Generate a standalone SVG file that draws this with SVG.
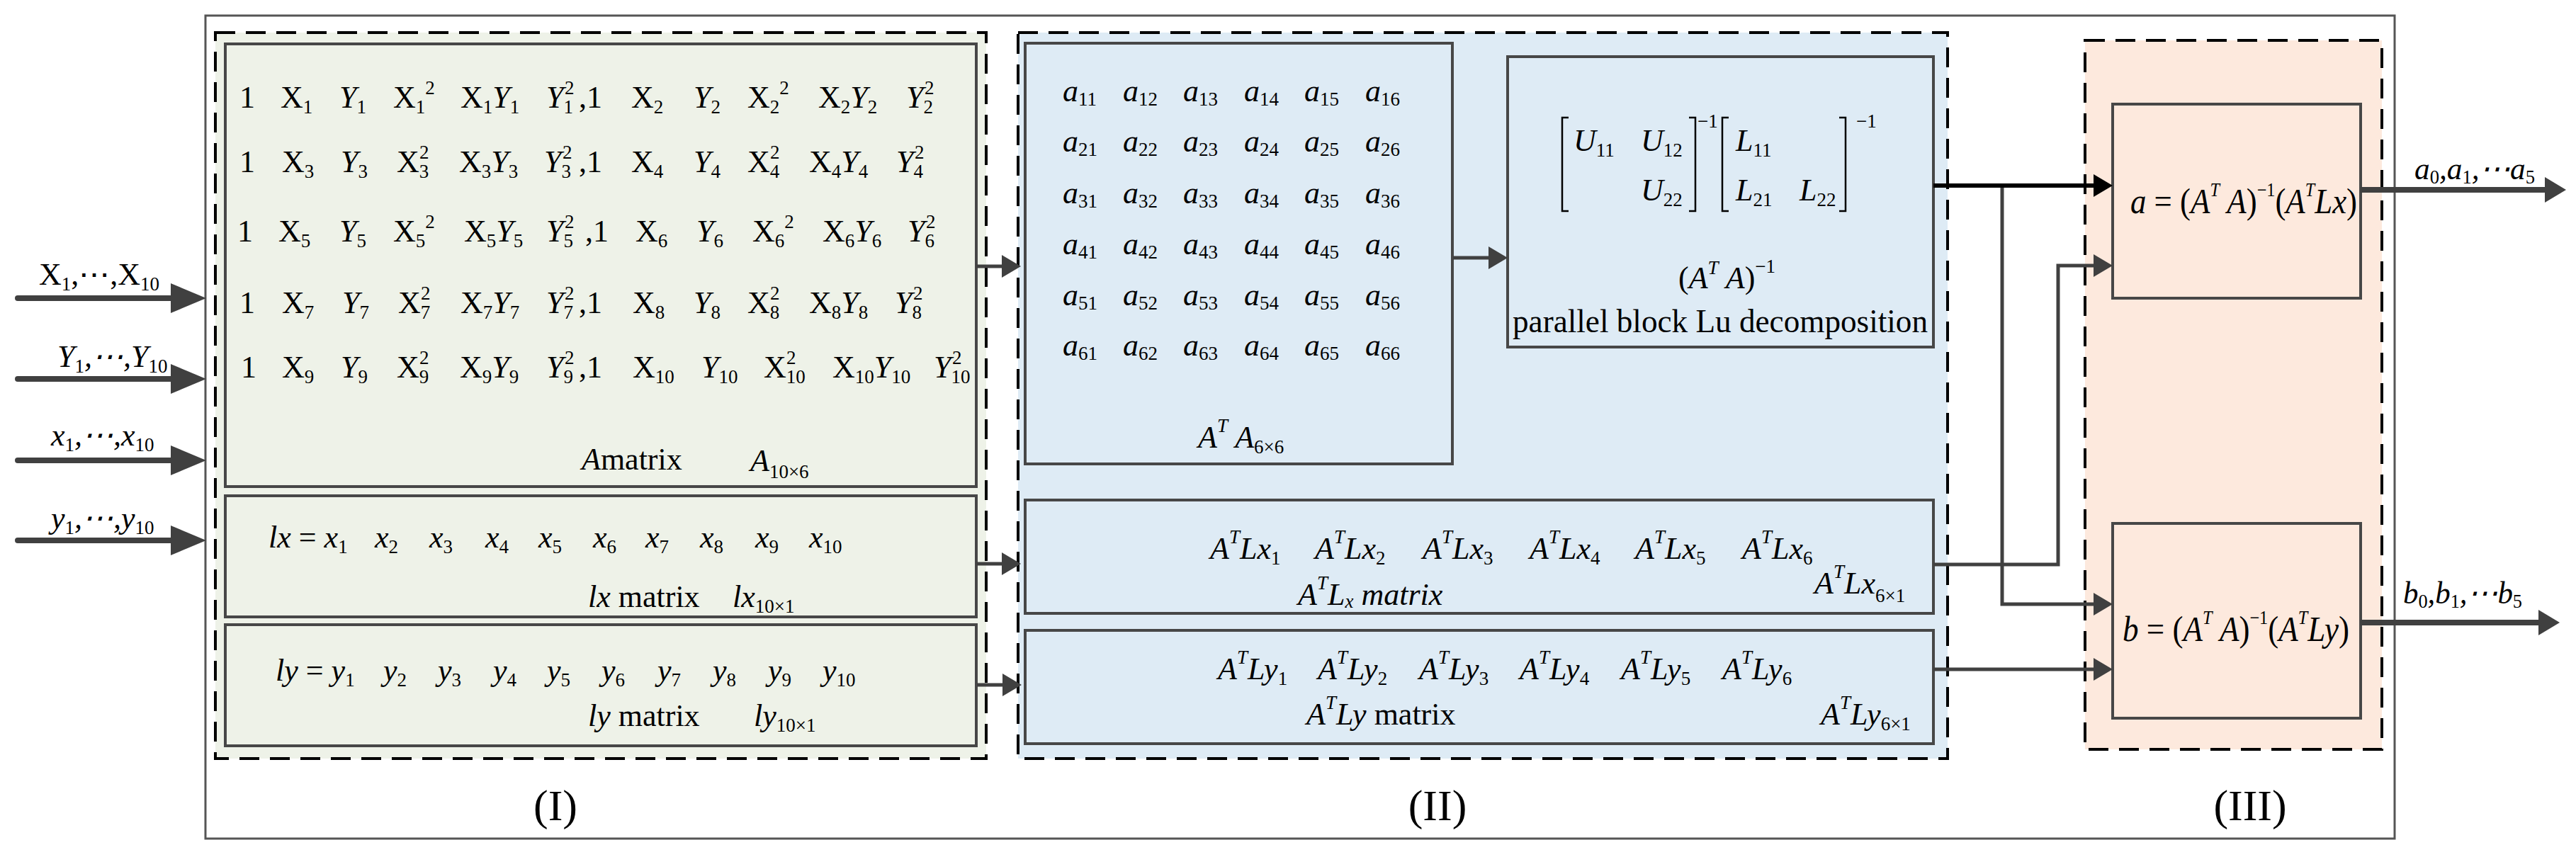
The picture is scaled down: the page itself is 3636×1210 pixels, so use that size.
<svg xmlns="http://www.w3.org/2000/svg" width="3636" height="1210" viewBox="0 0 3636 1210">
<style>
.t{font-family:"Liberation Serif","Times New Roman",serif;font-size:44px;fill:#000}
.i{font-style:italic}
.n{font-style:normal}
.s{font-size:27px;font-style:normal}
.si{font-size:27px;font-style:italic}
.sec{font-family:"Liberation Serif","Times New Roman",serif;font-size:62px;fill:#000;text-anchor:middle}
.box{stroke:#474747;stroke-width:4}
.dash{stroke:#000;stroke-width:4;stroke-dasharray:28 15}
.g{fill:#EEF2E8}
.b{fill:#DEEBF5}
.p{fill:#FDE9DD}
.c{fill:none;stroke:#404040;stroke-width:5}
.in{stroke-width:8;stroke-linecap:round}
.brk{fill:none;stroke:#000;stroke-width:2.5}
</style>
<defs>
<marker id="mBig" viewBox="0 0 50 42" markerWidth="50" markerHeight="42" refX="38" refY="21" orient="auto" markerUnits="userSpaceOnUse"><path d="M0,0 L50,21 L0,42 z" fill="#404040"/></marker>
<marker id="mSm" viewBox="0 0 27 32" markerWidth="27" markerHeight="32" refX="17" refY="16" orient="auto" markerUnits="userSpaceOnUse"><path d="M0,0 L27,16 L0,32 z" fill="#404040"/></marker>
<marker id="mBlk" viewBox="0 0 27 32" markerWidth="27" markerHeight="32" refX="17" refY="16" orient="auto" markerUnits="userSpaceOnUse"><path d="M0,0 L27,16 L0,32 z" fill="#000"/></marker>
<marker id="mOut" viewBox="0 0 30 36" markerWidth="30" markerHeight="36" refX="20" refY="18" orient="auto" markerUnits="userSpaceOnUse"><path d="M0,0 L30,18 L0,36 z" fill="#404040"/></marker>
</defs>
<rect width="3636" height="1210" fill="#fff"/>
<rect id="outer" x="290" y="22" width="3090" height="1162" fill="none" stroke="#555" stroke-width="3"/>

<g id="stage1">
<rect class="g" x="304" y="46" width="1088" height="1025"/>
<rect class="dash" fill="none" x="304" y="46" width="1088" height="1025"/>
<text class="sec" x="784" y="1158">(I)</text>
</g>
<g id="stage2">
<rect class="b" x="1437" y="46" width="1312" height="1025"/>
<rect class="dash" fill="none" x="1437" y="46" width="1312" height="1025"/>
<text class="sec" x="2029" y="1158">(II)</text>
</g>
<g id="stage3">
<rect class="p" x="2943" y="57" width="419" height="1001"/>
<rect class="dash" fill="none" x="2943" y="57" width="419" height="1001"/>
<text class="sec" x="3176" y="1158">(III)</text>
</g>

<g id="A-matrix">
<rect class="box g" x="318" y="62" width="1060" height="625"/>
<text class="t" x="338" y="152">1</text>
<text class="t" x="396" y="152">X<tspan class="s" dy="8">1</tspan></text>
<text class="t i" x="479" y="152">Y<tspan class="s" dy="8">1</tspan></text>
<text class="t" x="555" y="152">X<tspan class="s" dy="8">1</tspan><tspan class="s" dy="-27">2</tspan></text>
<text class="t" x="650" y="152">X<tspan class="s" dy="8">1</tspan><tspan class="i" dy="-8">Y</tspan><tspan class="s" dy="8">1</tspan></text>
<text class="t i" x="771" y="152">Y<tspan class="s" dy="8">1</tspan></text><text class="t s" x="797" y="133">2</text>
<text class="t" x="817" y="152">,1</text>
<text class="t" x="891" y="152">X<tspan class="s" dy="8">2</tspan></text>
<text class="t i" x="979" y="152">Y<tspan class="s" dy="8">2</tspan></text>
<text class="t" x="1055" y="152">X<tspan class="s" dy="8">2</tspan><tspan class="s" dy="-27">2</tspan></text>
<text class="t" x="1155" y="152">X<tspan class="s" dy="8">2</tspan><tspan class="i" dy="-8">Y</tspan><tspan class="s" dy="8">2</tspan></text>
<text class="t i" x="1279" y="152">Y<tspan class="s" dy="8">2</tspan></text><text class="t s" x="1305" y="133">2</text>
<text class="t" x="338" y="243">1</text>
<text class="t" x="398" y="243">X<tspan class="s" dy="8">3</tspan></text>
<text class="t i" x="481" y="243">Y<tspan class="s" dy="8">3</tspan></text>
<text class="t" x="560" y="243">X<tspan class="s" dy="8">3</tspan></text><text class="t s" x="592" y="224">2</text>
<text class="t" x="648" y="243">X<tspan class="s" dy="8">3</tspan><tspan class="i" dy="-8">Y</tspan><tspan class="s" dy="8">3</tspan></text>
<text class="t i" x="768" y="243">Y<tspan class="s" dy="8">3</tspan></text><text class="t s" x="794" y="224">2</text>
<text class="t" x="817" y="243">,1</text>
<text class="t" x="891" y="243">X<tspan class="s" dy="8">4</tspan></text>
<text class="t i" x="979" y="243">Y<tspan class="s" dy="8">4</tspan></text>
<text class="t" x="1055" y="243">X<tspan class="s" dy="8">4</tspan></text><text class="t s" x="1087" y="224">2</text>
<text class="t" x="1142" y="243">X<tspan class="s" dy="8">4</tspan><tspan class="i" dy="-8">Y</tspan><tspan class="s" dy="8">4</tspan></text>
<text class="t i" x="1265" y="243">Y<tspan class="s" dy="8">4</tspan></text><text class="t s" x="1291" y="224">2</text>
<text class="t" x="335" y="341">1</text>
<text class="t" x="393" y="341">X<tspan class="s" dy="8">5</tspan></text>
<text class="t i" x="479" y="341">Y<tspan class="s" dy="8">5</tspan></text>
<text class="t" x="555" y="341">X<tspan class="s" dy="8">5</tspan><tspan class="s" dy="-27">2</tspan></text>
<text class="t" x="655" y="341">X<tspan class="s" dy="8">5</tspan><tspan class="i" dy="-8">Y</tspan><tspan class="s" dy="8">5</tspan></text>
<text class="t i" x="771" y="341">Y<tspan class="s" dy="8">5</tspan></text><text class="t s" x="797" y="322">2</text>
<text class="t" x="826" y="341">,1</text>
<text class="t" x="897" y="341">X<tspan class="s" dy="8">6</tspan></text>
<text class="t i" x="983" y="341">Y<tspan class="s" dy="8">6</tspan></text>
<text class="t" x="1062" y="341">X<tspan class="s" dy="8">6</tspan><tspan class="s" dy="-27">2</tspan></text>
<text class="t" x="1161" y="341">X<tspan class="s" dy="8">6</tspan><tspan class="i" dy="-8">Y</tspan><tspan class="s" dy="8">6</tspan></text>
<text class="t i" x="1281" y="341">Y<tspan class="s" dy="8">6</tspan></text><text class="t s" x="1307" y="322">2</text>
<text class="t" x="338" y="442">1</text>
<text class="t" x="398" y="442">X<tspan class="s" dy="8">7</tspan></text>
<text class="t i" x="483" y="442">Y<tspan class="s" dy="8">7</tspan></text>
<text class="t" x="562" y="442">X<tspan class="s" dy="8">7</tspan></text><text class="t s" x="594" y="423">2</text>
<text class="t" x="650" y="442">X<tspan class="s" dy="8">7</tspan><tspan class="i" dy="-8">Y</tspan><tspan class="s" dy="8">7</tspan></text>
<text class="t i" x="771" y="442">Y<tspan class="s" dy="8">7</tspan></text><text class="t s" x="797" y="423">2</text>
<text class="t" x="817" y="442">,1</text>
<text class="t" x="893" y="442">X<tspan class="s" dy="8">8</tspan></text>
<text class="t i" x="979" y="442">Y<tspan class="s" dy="8">8</tspan></text>
<text class="t" x="1055" y="442">X<tspan class="s" dy="8">8</tspan></text><text class="t s" x="1087" y="423">2</text>
<text class="t" x="1142" y="442">X<tspan class="s" dy="8">8</tspan><tspan class="i" dy="-8">Y</tspan><tspan class="s" dy="8">8</tspan></text>
<text class="t i" x="1263" y="442">Y<tspan class="s" dy="8">8</tspan></text><text class="t s" x="1289" y="423">2</text>
<text class="t" x="340" y="533">1</text>
<text class="t" x="398" y="533">X<tspan class="s" dy="8">9</tspan></text>
<text class="t i" x="481" y="533">Y<tspan class="s" dy="8">9</tspan></text>
<text class="t" x="560" y="533">X<tspan class="s" dy="8">9</tspan></text><text class="t s" x="592" y="514">2</text>
<text class="t" x="649" y="533">X<tspan class="s" dy="8">9</tspan><tspan class="i" dy="-8">Y</tspan><tspan class="s" dy="8">9</tspan></text>
<text class="t i" x="771" y="533">Y<tspan class="s" dy="8">9</tspan></text><text class="t s" x="797" y="514">2</text>
<text class="t" x="817" y="533">,1</text>
<text class="t" x="893" y="533">X<tspan class="s" dy="8">10</tspan></text>
<text class="t i" x="990" y="533">Y<tspan class="s" dy="8">10</tspan></text>
<text class="t" x="1078" y="533">X<tspan class="s" dy="8">10</tspan></text><text class="t s" x="1110" y="514">2</text>
<text class="t" x="1175" y="533">X<tspan class="s" dy="8">10</tspan><tspan class="i" dy="-8">Y</tspan><tspan class="s" dy="8">10</tspan></text>
<text class="t i" x="1318" y="533">Y<tspan class="s" dy="8">10</tspan></text><text class="t s" x="1344" y="514">2</text>
<text class="t i" x="821" y="663">A<tspan class="n">matrix</tspan></text>
<text class="t i" x="1059" y="665">A<tspan class="s" dy="10">10×6</tspan></text>
</g>

<g id="lx-matrix">
<rect class="box g" x="318" y="700" width="1060" height="171"/>
<text class="t i" x="379" y="773">lx<tspan class="n"> = </tspan>x<tspan class="s" dy="8">1</tspan></text>
<text class="t i" x="529" y="773">x<tspan class="s" dy="8">2</tspan></text>
<text class="t i" x="606" y="773">x<tspan class="s" dy="8">3</tspan></text>
<text class="t i" x="685" y="773">x<tspan class="s" dy="8">4</tspan></text>
<text class="t i" x="760" y="773">x<tspan class="s" dy="8">5</tspan></text>
<text class="t i" x="837" y="773">x<tspan class="s" dy="8">6</tspan></text>
<text class="t i" x="911" y="773">x<tspan class="s" dy="8">7</tspan></text>
<text class="t i" x="988" y="773">x<tspan class="s" dy="8">8</tspan></text>
<text class="t i" x="1066" y="773">x<tspan class="s" dy="8">9</tspan></text>
<text class="t i" x="1142" y="773">x<tspan class="s" dy="8">10</tspan></text>
<text class="t i" x="830" y="857">lx<tspan class="n"> matrix</tspan></text>
<text class="t i" x="1034" y="857">lx<tspan class="s" dy="8">10×1</tspan></text>
</g>

<g id="ly-matrix">
<rect class="box g" x="318" y="882" width="1060" height="171"/>
<text class="t i" x="389" y="961">ly<tspan class="n"> = </tspan>y<tspan class="s" dy="8">1</tspan></text>
<text class="t i" x="541" y="961">y<tspan class="s" dy="8">2</tspan></text>
<text class="t i" x="618" y="961">y<tspan class="s" dy="8">3</tspan></text>
<text class="t i" x="696" y="961">y<tspan class="s" dy="8">4</tspan></text>
<text class="t i" x="772" y="961">y<tspan class="s" dy="8">5</tspan></text>
<text class="t i" x="849" y="961">y<tspan class="s" dy="8">6</tspan></text>
<text class="t i" x="928" y="961">y<tspan class="s" dy="8">7</tspan></text>
<text class="t i" x="1006" y="961">y<tspan class="s" dy="8">8</tspan></text>
<text class="t i" x="1084" y="961">y<tspan class="s" dy="8">9</tspan></text>
<text class="t i" x="1161" y="961">y<tspan class="s" dy="8">10</tspan></text>
<text class="t i" x="830" y="1025">ly<tspan class="n"> matrix</tspan></text>
<text class="t i" x="1064" y="1025">ly<tspan class="s" dy="8">10×1</tspan></text>
</g>

<g id="ATA-matrix">
<rect class="box b" x="1447" y="61" width="603" height="594"/>
<text class="t i" x="1500" y="143">a<tspan class="s" dy="6">11</tspan></text>
<text class="t i" x="1585" y="143">a<tspan class="s" dy="6">12</tspan></text>
<text class="t i" x="1670" y="143">a<tspan class="s" dy="6">13</tspan></text>
<text class="t i" x="1756" y="143">a<tspan class="s" dy="6">14</tspan></text>
<text class="t i" x="1841" y="143">a<tspan class="s" dy="6">15</tspan></text>
<text class="t i" x="1927" y="143">a<tspan class="s" dy="6">16</tspan></text>
<text class="t i" x="1500" y="214">a<tspan class="s" dy="6">21</tspan></text>
<text class="t i" x="1585" y="214">a<tspan class="s" dy="6">22</tspan></text>
<text class="t i" x="1670" y="214">a<tspan class="s" dy="6">23</tspan></text>
<text class="t i" x="1756" y="214">a<tspan class="s" dy="6">24</tspan></text>
<text class="t i" x="1841" y="214">a<tspan class="s" dy="6">25</tspan></text>
<text class="t i" x="1927" y="214">a<tspan class="s" dy="6">26</tspan></text>
<text class="t i" x="1500" y="287">a<tspan class="s" dy="6">31</tspan></text>
<text class="t i" x="1585" y="287">a<tspan class="s" dy="6">32</tspan></text>
<text class="t i" x="1670" y="287">a<tspan class="s" dy="6">33</tspan></text>
<text class="t i" x="1756" y="287">a<tspan class="s" dy="6">34</tspan></text>
<text class="t i" x="1841" y="287">a<tspan class="s" dy="6">35</tspan></text>
<text class="t i" x="1927" y="287">a<tspan class="s" dy="6">36</tspan></text>
<text class="t i" x="1500" y="359">a<tspan class="s" dy="6">41</tspan></text>
<text class="t i" x="1585" y="359">a<tspan class="s" dy="6">42</tspan></text>
<text class="t i" x="1670" y="359">a<tspan class="s" dy="6">43</tspan></text>
<text class="t i" x="1756" y="359">a<tspan class="s" dy="6">44</tspan></text>
<text class="t i" x="1841" y="359">a<tspan class="s" dy="6">45</tspan></text>
<text class="t i" x="1927" y="359">a<tspan class="s" dy="6">46</tspan></text>
<text class="t i" x="1500" y="431">a<tspan class="s" dy="6">51</tspan></text>
<text class="t i" x="1585" y="431">a<tspan class="s" dy="6">52</tspan></text>
<text class="t i" x="1670" y="431">a<tspan class="s" dy="6">53</tspan></text>
<text class="t i" x="1756" y="431">a<tspan class="s" dy="6">54</tspan></text>
<text class="t i" x="1841" y="431">a<tspan class="s" dy="6">55</tspan></text>
<text class="t i" x="1927" y="431">a<tspan class="s" dy="6">56</tspan></text>
<text class="t i" x="1500" y="502">a<tspan class="s" dy="6">61</tspan></text>
<text class="t i" x="1585" y="502">a<tspan class="s" dy="6">62</tspan></text>
<text class="t i" x="1670" y="502">a<tspan class="s" dy="6">63</tspan></text>
<text class="t i" x="1756" y="502">a<tspan class="s" dy="6">64</tspan></text>
<text class="t i" x="1841" y="502">a<tspan class="s" dy="6">65</tspan></text>
<text class="t i" x="1927" y="502">a<tspan class="s" dy="6">66</tspan></text>
<text class="t i" x="1691" y="632">A<tspan class="si" dy="-22">T</tspan><tspan dy="22"> A</tspan><tspan class="s" dy="8">6×6</tspan></text>
</g>

<g id="LU">
<rect class="box b" x="2128" y="80" width="601" height="410"/>
<path class="brk" d="M2214,166 H2205 V298 H2214 M2384,166 H2393 V298 H2384 M2440,166 H2431 V298 H2440 M2596,166 H2605 V298 H2596"/>
<text class="t i" x="2221" y="213">U<tspan class="s" dy="8">11</tspan></text>
<text class="t i" x="2316" y="213">U<tspan class="s" dy="8">12</tspan></text>
<text class="t i" x="2316" y="283">U<tspan class="s" dy="8">22</tspan></text>
<text class="t s" x="2396" y="180">−1</text>
<text class="t i" x="2450" y="213">L<tspan class="s" dy="8">11</tspan></text>
<text class="t i" x="2450" y="283">L<tspan class="s" dy="8">21</tspan></text>
<text class="t i" x="2540" y="283">L<tspan class="s" dy="8">22</tspan></text>
<text class="t s" x="2620" y="180">−1</text>
<text class="t" x="2369" y="407">(<tspan class="i">A</tspan><tspan class="si" dy="-20">T</tspan><tspan class="i" dy="20"> A</tspan>)<tspan class="s" dy="-22">−1</tspan></text>
<text class="t" x="2135" y="469" style="font-size:46px" textLength="586" lengthAdjust="spacingAndGlyphs">parallel block Lu decomposition</text>
</g>

<g id="ATLx">
<rect class="box b" x="1447" y="706" width="1282" height="160"/>
<text class="t i" x="1708" y="789">A<tspan class="si" dy="-22">T</tspan><tspan dy="22">Lx</tspan><tspan class="s" dy="8">1</tspan></text>
<text class="t i" x="1856" y="789">A<tspan class="si" dy="-22">T</tspan><tspan dy="22">Lx</tspan><tspan class="s" dy="8">2</tspan></text>
<text class="t i" x="2008" y="789">A<tspan class="si" dy="-22">T</tspan><tspan dy="22">Lx</tspan><tspan class="s" dy="8">3</tspan></text>
<text class="t i" x="2159" y="789">A<tspan class="si" dy="-22">T</tspan><tspan dy="22">Lx</tspan><tspan class="s" dy="8">4</tspan></text>
<text class="t i" x="2308" y="789">A<tspan class="si" dy="-22">T</tspan><tspan dy="22">Lx</tspan><tspan class="s" dy="8">5</tspan></text>
<text class="t i" x="2459" y="789">A<tspan class="si" dy="-22">T</tspan><tspan dy="22">Lx</tspan><tspan class="s" dy="8">6</tspan></text>
<text class="t i" x="1832" y="854">A<tspan class="si" dy="-22">T</tspan><tspan dy="22">L</tspan><tspan class="si" dy="4">x</tspan><tspan dy="-4"> matrix</tspan></text>
<text class="t i" x="2561" y="838">A<tspan class="si" dy="-22">T</tspan><tspan dy="22">Lx</tspan><tspan class="s" dy="12">6×1</tspan></text>
</g>

<g id="ATLy">
<rect class="box b" x="1447" y="890" width="1282" height="160"/>
<text class="t i" x="1719" y="959">A<tspan class="si" dy="-22">T</tspan><tspan dy="22">Ly</tspan><tspan class="s" dy="8">1</tspan></text>
<text class="t i" x="1860" y="959">A<tspan class="si" dy="-22">T</tspan><tspan dy="22">Ly</tspan><tspan class="s" dy="8">2</tspan></text>
<text class="t i" x="2003" y="959">A<tspan class="si" dy="-22">T</tspan><tspan dy="22">Ly</tspan><tspan class="s" dy="8">3</tspan></text>
<text class="t i" x="2145" y="959">A<tspan class="si" dy="-22">T</tspan><tspan dy="22">Ly</tspan><tspan class="s" dy="8">4</tspan></text>
<text class="t i" x="2288" y="959">A<tspan class="si" dy="-22">T</tspan><tspan dy="22">Ly</tspan><tspan class="s" dy="8">5</tspan></text>
<text class="t i" x="2431" y="959">A<tspan class="si" dy="-22">T</tspan><tspan dy="22">Ly</tspan><tspan class="s" dy="8">6</tspan></text>
<text class="t i" x="1844" y="1023">A<tspan class="si" dy="-22">T</tspan><tspan dy="22">Ly</tspan><tspan class="n"> matrix</tspan></text>
<text class="t i" x="2570" y="1023">A<tspan class="si" dy="-22">T</tspan><tspan dy="22">Ly</tspan><tspan class="s" dy="8">6×1</tspan></text>
</g>

<g id="a-solve">
<rect class="box p" x="2982" y="147" width="350" height="274"/>
<text class="t" x="3007" y="301" style="font-size:50px" textLength="320" lengthAdjust="spacingAndGlyphs"><tspan class="i">a</tspan> = (<tspan class="i">A</tspan><tspan class="si" dy="-24">T</tspan><tspan class="i" dy="24"> A</tspan>)<tspan class="s" dy="-24">−1</tspan><tspan dy="24">(</tspan><tspan class="i">A</tspan><tspan class="si" dy="-24">T</tspan><tspan class="i" dy="24">Lx</tspan>)</text>
</g>

<g id="b-solve">
<rect class="box p" x="2982" y="739" width="350" height="275"/>
<text class="t" x="2996" y="905" style="font-size:50px" textLength="320" lengthAdjust="spacingAndGlyphs"><tspan class="i">b</tspan> = (<tspan class="i">A</tspan><tspan class="si" dy="-24">T</tspan><tspan class="i" dy="24"> A</tspan>)<tspan class="s" dy="-24">−1</tspan><tspan dy="24">(</tspan><tspan class="i">A</tspan><tspan class="si" dy="-24">T</tspan><tspan class="i" dy="24">Ly</tspan>)</text>
</g>

<g id="connectors">
<path class="c in" d="M25,421 H279" marker-end="url(#mBig)"/>
<path class="c in" d="M25,535 H279" marker-end="url(#mBig)"/>
<path class="c in" d="M25,650 H279" marker-end="url(#mBig)"/>
<path class="c in" d="M25,763 H279" marker-end="url(#mBig)"/>
<path class="c" d="M1378,376 H1431" marker-end="url(#mSm)"/>
<path class="c" d="M1378,796 H1431" marker-end="url(#mSm)"/>
<path class="c" d="M1379,967 H1432" marker-end="url(#mSm)"/>
<path class="c" d="M2051,364 H2118" marker-end="url(#mSm)"/>
<path class="c" d="M2826,262 V853 H2972" marker-end="url(#mSm)"/>
<path class="c" d="M2729,797 H2905 V375 H2972" marker-end="url(#mSm)"/>
<path class="c" d="M2729,945 H2972" marker-end="url(#mSm)"/>
<path class="c" d="M2729,262 H2972" style="stroke:#000;stroke-width:6" marker-end="url(#mBlk)"/>
<path class="c" d="M3332,268 H3612" style="stroke-width:8" marker-end="url(#mOut)"/>
<path class="c" d="M3332,879 H3603" style="stroke-width:8" marker-end="url(#mOut)"/>
</g>

<g id="io-labels">
<text class="t" x="55" y="402">X<tspan class="s" dy="8">1</tspan><tspan dy="-8">,⋯,X</tspan><tspan class="s" dy="8">10</tspan></text>
<text class="t i" x="81" y="518">Y<tspan class="s" dy="8">1</tspan><tspan dy="-8">,⋯,Y</tspan><tspan class="s" dy="8">10</tspan></text>
<text class="t i" x="72" y="629">x<tspan class="s" dy="8">1</tspan><tspan dy="-8">,⋯,x</tspan><tspan class="s" dy="8">10</tspan></text>
<text class="t i" x="72" y="746">y<tspan class="s" dy="8">1</tspan><tspan dy="-8">,⋯,y</tspan><tspan class="s" dy="8">10</tspan></text>
<text class="t i" x="3408" y="253" textLength="170" lengthAdjust="spacingAndGlyphs">a<tspan class="s" dy="6">0</tspan><tspan dy="-6">,a</tspan><tspan class="s" dy="6">1</tspan><tspan dy="-6">,⋯a</tspan><tspan class="s" dy="6">5</tspan></text>
<text class="t i" x="3392" y="852" textLength="168" lengthAdjust="spacingAndGlyphs">b<tspan class="s" dy="6">0</tspan><tspan dy="-6">,b</tspan><tspan class="s" dy="6">1</tspan><tspan dy="-6">,⋯b</tspan><tspan class="s" dy="6">5</tspan></text>
</g>
</svg>
